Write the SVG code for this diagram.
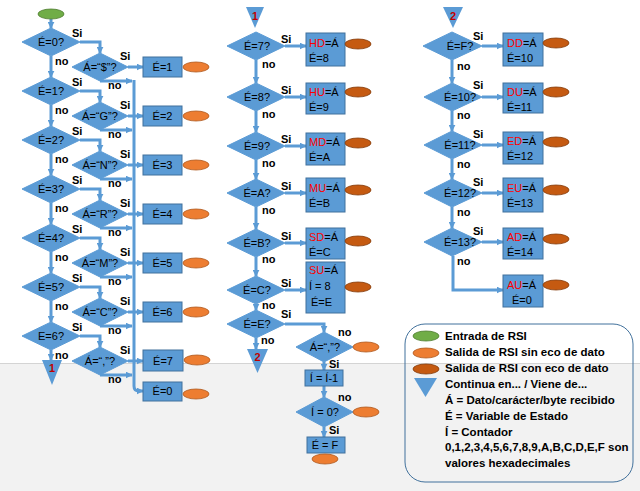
<svg xmlns="http://www.w3.org/2000/svg" width="640" height="491" viewBox="0 0 640 491">
<style>
.bg{fill:#ffffff}
.ft{fill:#f2f2f2}
.dm{fill:#5b9bd5;stroke:#5b9bd5;stroke-width:1}
.bx{fill:#5b9bd5;stroke:#41719c;stroke-width:1}
.tr{fill:#5b9bd5}
.eg{fill:#70ad47;stroke:#507e32;stroke-width:0.8}
.eo{fill:#ed7d31;stroke:#ae5a21;stroke-width:0.8}
.eb{fill:#c55a11;stroke:#843c0c;stroke-width:0.8}
.cn{fill:none;stroke:#5b9bd5;stroke-width:3}
.t{font-family:"Liberation Sans",Arial,sans-serif;font-size:11px;fill:#000}
.c{text-anchor:middle}
.b{font-family:"Liberation Sans",Arial,sans-serif;font-size:11px;font-weight:bold;fill:#000}
.r{fill:#ff0000}
.n{font-family:"Liberation Sans",Arial,sans-serif;font-size:11px;font-weight:bold;fill:#c00000;text-anchor:middle}
.lg{font-family:"Liberation Sans",Arial,sans-serif;font-size:11.5px;font-weight:bold;fill:#000}
</style>
<defs>
<marker id="ar" viewBox="0 0 10 10" refX="9" refY="5" markerWidth="7" markerHeight="7" markerUnits="userSpaceOnUse" orient="auto">
<path d="M0,0 L10,5 L0,10 z" fill="#5b9bd5"/>
</marker>
</defs>
<rect class="bg" x="0" y="0" width="640" height="491"/>
<rect class="ft" x="0" y="363" width="640" height="128"/>
<line x1="0" y1="363.5" x2="640" y2="363.5" stroke="#d4d4d4" stroke-width="1"/>

<g id="connectors">
<!-- left column -->
<path class="cn" d="M51,19 V28" marker-end="url(#ar)"/>
<path class="cn" d="M51,56 V77" marker-end="url(#ar)"/>
<path class="cn" d="M51,105 V126" marker-end="url(#ar)"/>
<path class="cn" d="M51,154 V175" marker-end="url(#ar)"/>
<path class="cn" d="M51,203 V224" marker-end="url(#ar)"/>
<path class="cn" d="M51,252 V273" marker-end="url(#ar)"/>
<path class="cn" d="M51,301 V322" marker-end="url(#ar)"/>
<path class="cn" d="M51,350 V360" marker-end="url(#ar)"/>
<path class="cn" d="M80,42 H100 V53" marker-end="url(#ar)"/>
<path class="cn" d="M80,91 H100 V102" marker-end="url(#ar)"/>
<path class="cn" d="M80,140 H100 V151" marker-end="url(#ar)"/>
<path class="cn" d="M80,189 H100 V200" marker-end="url(#ar)"/>
<path class="cn" d="M80,238 H100 V249" marker-end="url(#ar)"/>
<path class="cn" d="M80,287 H100 V298" marker-end="url(#ar)"/>
<path class="cn" d="M80,336 H100 V347" marker-end="url(#ar)"/>
<path class="cn" d="M128,67 H143" marker-end="url(#ar)"/>
<path class="cn" d="M128,116 H143" marker-end="url(#ar)"/>
<path class="cn" d="M128,165 H143" marker-end="url(#ar)"/>
<path class="cn" d="M128,214 H143" marker-end="url(#ar)"/>
<path class="cn" d="M128,263 H143" marker-end="url(#ar)"/>
<path class="cn" d="M128,312 H143" marker-end="url(#ar)"/>
<path class="cn" d="M128,361 H143" marker-end="url(#ar)"/>
<path class="cn" d="M100,81 H132" marker-end="url(#ar)"/>
<path class="cn" d="M100,130 H132" marker-end="url(#ar)"/>
<path class="cn" d="M100,179 H132" marker-end="url(#ar)"/>
<path class="cn" d="M100,228 H132" marker-end="url(#ar)"/>
<path class="cn" d="M100,277 H132" marker-end="url(#ar)"/>
<path class="cn" d="M100,326 H132" marker-end="url(#ar)"/>
<path class="cn" d="M100,375 H132" marker-end="url(#ar)"/>
<path class="cn" d="M134,80 V386 Q134,391 139,391 H143" marker-end="url(#ar)"/>
<!-- middle column -->
<path class="cn" d="M256,60 V83" marker-end="url(#ar)"/>
<path class="cn" d="M256,111 V132" marker-end="url(#ar)"/>
<path class="cn" d="M256,160 V179" marker-end="url(#ar)"/>
<path class="cn" d="M256,207 V229" marker-end="url(#ar)"/>
<path class="cn" d="M256,257 V276" marker-end="url(#ar)"/>
<path class="cn" d="M256,304 V310" marker-end="url(#ar)"/>
<path class="cn" d="M256,338 V349" marker-end="url(#ar)"/>
<path class="cn" d="M285,46 H306" marker-end="url(#ar)"/>
<path class="cn" d="M285,97 H306" marker-end="url(#ar)"/>
<path class="cn" d="M285,146 H306" marker-end="url(#ar)"/>
<path class="cn" d="M285,193 H306" marker-end="url(#ar)"/>
<path class="cn" d="M285,243 H306" marker-end="url(#ar)"/>
<path class="cn" d="M285,290 H306" marker-end="url(#ar)"/>
<path class="cn" d="M285,324 H324 V332" marker-end="url(#ar)"/>
<path class="cn" d="M324,362 V370" marker-end="url(#ar)"/>
<path class="cn" d="M324,386 V397" marker-end="url(#ar)"/>
<path class="cn" d="M324,427 V437" marker-end="url(#ar)"/>
<!-- right column -->
<path class="cn" d="M452,60 V83" marker-end="url(#ar)"/>
<path class="cn" d="M452,111 V131" marker-end="url(#ar)"/>
<path class="cn" d="M452,159 V179" marker-end="url(#ar)"/>
<path class="cn" d="M452,207 V228" marker-end="url(#ar)"/>
<path class="cn" d="M453,256 V290 H503" marker-end="url(#ar)"/>
<path class="cn" d="M482,46 H503" marker-end="url(#ar)"/>
<path class="cn" d="M482,97 H503" marker-end="url(#ar)"/>
<path class="cn" d="M482,145 H503" marker-end="url(#ar)"/>
<path class="cn" d="M482,193 H503" marker-end="url(#ar)"/>
<path class="cn" d="M482,242 H503" marker-end="url(#ar)"/>
</g>

<g id="labels">
<text class="b" x="72" y="37">Si</text><text class="b" x="55" y="65">no</text>
<text class="b" x="72" y="86">Si</text><text class="b" x="55" y="114">no</text>
<text class="b" x="72" y="135">Si</text><text class="b" x="55" y="163">no</text>
<text class="b" x="72" y="184">Si</text><text class="b" x="55" y="212">no</text>
<text class="b" x="72" y="233">Si</text><text class="b" x="55" y="261">no</text>
<text class="b" x="72" y="282">Si</text><text class="b" x="55" y="310">no</text>
<text class="b" x="72" y="331">Si</text><text class="b" x="55" y="359">no</text>
<text class="b" x="120" y="60">Si</text><text class="b" x="108" y="89">no</text>
<text class="b" x="120" y="109">Si</text><text class="b" x="108" y="138">no</text>
<text class="b" x="120" y="158">Si</text><text class="b" x="108" y="187">no</text>
<text class="b" x="120" y="207">Si</text><text class="b" x="108" y="236">no</text>
<text class="b" x="120" y="256">Si</text><text class="b" x="108" y="285">no</text>
<text class="b" x="120" y="305">Si</text><text class="b" x="108" y="334">no</text>
<text class="b" x="120" y="354">Si</text><text class="b" x="108" y="383">no</text>
<text class="b" x="281" y="43">Si</text><text class="b" x="262" y="68">no</text>
<text class="b" x="281" y="94">Si</text><text class="b" x="262" y="118">no</text>
<text class="b" x="281" y="143">Si</text><text class="b" x="262" y="167">no</text>
<text class="b" x="281" y="190">Si</text><text class="b" x="262" y="214">no</text>
<text class="b" x="281" y="240">Si</text><text class="b" x="262" y="263">no</text>
<text class="b" x="281" y="287">Si</text><text class="b" x="262" y="309">no</text>
<text class="b" x="281" y="318">Si</text><text class="b" x="261" y="344">no</text>
<text class="b" x="338" y="336">no</text><text class="b" x="329" y="368">Si</text>
<text class="b" x="338" y="401">no</text><text class="b" x="329" y="434">Si</text>
<text class="b" x="473" y="40">Si</text><text class="b" x="457" y="70">no</text>
<text class="b" x="473" y="89">Si</text><text class="b" x="457" y="119">no</text>
<text class="b" x="473" y="138">Si</text><text class="b" x="457" y="168">no</text>
<text class="b" x="473" y="186">Si</text><text class="b" x="457" y="216">no</text>
<text class="b" x="473" y="235">Si</text><text class="b" x="457" y="265">no</text>
</g>

<g id="start"><ellipse class="eg" cx="51" cy="14" rx="13" ry="5"/></g>

<g id="e0"><polygon class="dm" points="22,42 51,28 80,42 51,56"/><text class="t c" x="51" y="46">É=0?</text></g>
<g id="e1"><polygon class="dm" points="22,91 51,77 80,91 51,105"/><text class="t c" x="51" y="95">É=1?</text></g>
<g id="e2"><polygon class="dm" points="22,140 51,126 80,140 51,154"/><text class="t c" x="51" y="144">É=2?</text></g>
<g id="e3"><polygon class="dm" points="22,189 51,175 80,189 51,203"/><text class="t c" x="51" y="193">É=3?</text></g>
<g id="e4"><polygon class="dm" points="22,238 51,224 80,238 51,252"/><text class="t c" x="51" y="242">É=4?</text></g>
<g id="e5"><polygon class="dm" points="22,287 51,273 80,287 51,301"/><text class="t c" x="51" y="291">É=5?</text></g>
<g id="e6"><polygon class="dm" points="22,336 51,322 80,336 51,350"/><text class="t c" x="51" y="340">E=6?</text></g>
<g id="t1a"><polygon class="tr" points="42,360 62,360 52,385"/><text class="n" x="52" y="372">1</text></g>

<g id="a1"><polygon class="dm" points="72,67 100,53 128,67 100,81"/><text class="t c" x="100" y="71">Á=“$”?</text></g>
<g id="a2"><polygon class="dm" points="72,116 100,102 128,116 100,130"/><text class="t c" x="100" y="120">Á=“G”?</text></g>
<g id="a3"><polygon class="dm" points="72,165 100,151 128,165 100,179"/><text class="t c" x="100" y="169">Á=“N”?</text></g>
<g id="a4"><polygon class="dm" points="72,214 100,200 128,214 100,228"/><text class="t c" x="100" y="218">Á=“R”?</text></g>
<g id="a5"><polygon class="dm" points="72,263 100,249 128,263 100,277"/><text class="t c" x="100" y="267">Á=“M”?</text></g>
<g id="a6"><polygon class="dm" points="72,312 100,298 128,312 100,326"/><text class="t c" x="100" y="316">Á=“C”?</text></g>
<g id="a7"><polygon class="dm" points="72,361 100,347 128,361 100,375"/><text class="t c" x="100" y="365">Á=“,”?</text></g>

<g id="b1"><rect class="bx" x="143" y="57" width="39" height="20"/><text class="t c" x="162.5" y="71">É=1</text><ellipse class="eo" cx="196" cy="67" rx="13" ry="5"/></g>
<g id="b2"><rect class="bx" x="143" y="106" width="39" height="20"/><text class="t c" x="162.5" y="120">É=2</text><ellipse class="eo" cx="196" cy="116" rx="13" ry="5"/></g>
<g id="b3"><rect class="bx" x="143" y="155" width="39" height="20"/><text class="t c" x="162.5" y="169">É=3</text><ellipse class="eo" cx="196" cy="165" rx="13" ry="5"/></g>
<g id="b4"><rect class="bx" x="143" y="204" width="39" height="20"/><text class="t c" x="162.5" y="218">É=4</text><ellipse class="eo" cx="196" cy="214" rx="13" ry="5"/></g>
<g id="b5"><rect class="bx" x="143" y="253" width="39" height="20"/><text class="t c" x="162.5" y="267">É=5</text><ellipse class="eo" cx="196" cy="263" rx="13" ry="5"/></g>
<g id="b6"><rect class="bx" x="143" y="302" width="39" height="20"/><text class="t c" x="162.5" y="316">É=6</text><ellipse class="eo" cx="196" cy="312" rx="13" ry="5"/></g>
<g id="b7"><rect class="bx" x="143" y="350" width="40" height="21"/><text class="t c" x="163" y="365">É=7</text><ellipse class="eo" cx="197" cy="360" rx="13" ry="5"/></g>
<g id="b0"><rect class="bx" x="143" y="382" width="39" height="19"/><text class="t c" x="162.5" y="395">É=0</text><ellipse class="eo" cx="196" cy="394" rx="13" ry="5"/></g>

<g id="t1b"><polygon class="tr" points="246,7 264,7 255,28"/><text class="n" x="255" y="20">1</text></g>
<g id="e7"><polygon class="dm" points="227,46 256,32 285,46 256,60"/><text class="t c" x="257" y="50">É=7?</text></g>
<g id="e8"><polygon class="dm" points="227,97 256,83 285,97 256,111"/><text class="t c" x="257" y="101">É=8?</text></g>
<g id="e9"><polygon class="dm" points="227,146 256,132 285,146 256,160"/><text class="t c" x="257" y="150">É=9?</text></g>
<g id="eA"><polygon class="dm" points="227,193 256,179 285,193 256,207"/><text class="t c" x="257" y="197">É=A?</text></g>
<g id="eB"><polygon class="dm" points="227,243 256,229 285,243 256,257"/><text class="t c" x="257" y="247">É=B?</text></g>
<g id="eC"><polygon class="dm" points="227,290 256,276 285,290 256,304"/><text class="t c" x="257" y="294">É=C?</text></g>
<g id="eE"><polygon class="dm" points="227,324 256,310 285,324 256,338"/><text class="t c" x="257" y="328">É=E?</text></g>
<g id="t2a"><polygon class="tr" points="247,349 268,349 257.5,373"/><text class="n" x="257.5" y="361">2</text></g>

<g id="bHD"><rect class="bx" x="306" y="33" width="39" height="33"/><text class="t" x="309" y="47"><tspan class="r">HD</tspan>=Á</text><text class="t" x="309" y="62">É=8</text><ellipse class="eb" cx="358" cy="44" rx="13" ry="5"/></g>
<g id="bHU"><rect class="bx" x="306" y="83" width="39" height="31"/><text class="t" x="309" y="96"><tspan class="r">HU</tspan>=Á</text><text class="t" x="309" y="111">É=9</text><ellipse class="eb" cx="358" cy="92" rx="13" ry="5"/></g>
<g id="bMD"><rect class="bx" x="306" y="133" width="39" height="32"/><text class="t" x="309" y="146"><tspan class="r">MD</tspan>=Á</text><text class="t" x="309" y="161">É=A</text><ellipse class="eb" cx="358" cy="143" rx="13" ry="5"/></g>
<g id="bMU"><rect class="bx" x="306" y="178" width="39" height="34"/><text class="t" x="309" y="192"><tspan class="r">MU</tspan>=Á</text><text class="t" x="309" y="207">É=B</text><ellipse class="eb" cx="358" cy="190" rx="13" ry="5"/></g>
<g id="bSD"><rect class="bx" x="306" y="228" width="39" height="31"/><text class="t" x="309" y="241"><tspan class="r">SD</tspan>=Á</text><text class="t" x="309" y="256">É=C</text><ellipse class="eb" cx="358" cy="241" rx="13" ry="5"/></g>
<g id="bSU"><rect class="bx" x="306" y="262" width="39" height="51"/><text class="t" x="309" y="274"><tspan class="r">SU</tspan>=Á</text><text class="t" x="309" y="290">Í = 8</text><text class="t" x="311" y="306">É=E</text><ellipse class="eb" cx="358" cy="287" rx="13" ry="5"/></g>

<g id="aComa"><polygon class="dm" points="296,347 324,332 353,347 324,362"/><text class="t c" x="325" y="351">Á=“,”?</text><ellipse class="eo" cx="366" cy="347" rx="13" ry="5"/></g>
<g id="bIdec"><rect class="bx" x="305" y="370" width="38" height="16"/><text class="t c" x="324" y="382">Í = Í-1</text></g>
<g id="iZero"><polygon class="dm" points="296,412 324,397 353,412 324,427"/><text class="t c" x="325" y="416">Í = 0?</text><ellipse class="eo" cx="366" cy="412" rx="13" ry="5"/></g>
<g id="bEF"><rect class="bx" x="307" y="437" width="38" height="16"/><text class="t c" x="325" y="449">É = F</text><ellipse class="eo" cx="325" cy="459" rx="13" ry="5"/></g>

<g id="t2b"><polygon class="tr" points="443,7 463,7 453,28"/><text class="n" x="453" y="20">2</text></g>
<g id="eF"><polygon class="dm" points="423,46 452,32 482,46 452,60"/><text class="t c" x="460" y="50">É=F?</text></g>
<g id="e10"><polygon class="dm" points="424,97 452,83 482,97 452,111"/><text class="t c" x="460" y="101">É=10?</text></g>
<g id="e11"><polygon class="dm" points="424,145 452,131 482,145 452,159"/><text class="t c" x="460" y="149">É=11?</text></g>
<g id="e12"><polygon class="dm" points="424,193 452,179 482,193 452,207"/><text class="t c" x="460" y="197">É=12?</text></g>
<g id="e13"><polygon class="dm" points="424,242 452,228 482,242 452,256"/><text class="t c" x="460" y="246">É=13?</text></g>

<g id="bDD"><rect class="bx" x="503" y="33" width="40" height="33"/><text class="t" x="507" y="47"><tspan class="r">DD</tspan>=Á</text><text class="t" x="507" y="62">É=10</text><ellipse class="eb" cx="556" cy="43" rx="13" ry="5"/></g>
<g id="bDU"><rect class="bx" x="503" y="83" width="40" height="30"/><text class="t" x="507" y="96"><tspan class="r">DU</tspan>=Á</text><text class="t" x="507" y="111">É=11</text><ellipse class="eb" cx="556" cy="92" rx="13" ry="5"/></g>
<g id="bED"><rect class="bx" x="503" y="132" width="40" height="32"/><text class="t" x="507" y="145"><tspan class="r">ED</tspan>=Á</text><text class="t" x="507" y="160">É=12</text><ellipse class="eb" cx="556" cy="142" rx="13" ry="5"/></g>
<g id="bEU"><rect class="bx" x="503" y="178" width="40" height="34"/><text class="t" x="507" y="192"><tspan class="r">EU</tspan>=Á</text><text class="t" x="507" y="207">É=13</text><ellipse class="eb" cx="556" cy="190" rx="13" ry="5"/></g>
<g id="bAD"><rect class="bx" x="503" y="228" width="40" height="31"/><text class="t" x="507" y="241"><tspan class="r">AD</tspan>=Á</text><text class="t" x="507" y="256">É=14</text><ellipse class="eb" cx="556" cy="239" rx="13" ry="5"/></g>
<g id="bAU"><rect class="bx" x="503" y="275" width="40" height="32"/><text class="t" x="507" y="289"><tspan class="r">AU</tspan>=Á</text><text class="t" x="512" y="304">É=0</text><ellipse class="eb" cx="556" cy="285" rx="13" ry="5"/></g>

<g id="legend">
<rect x="405" y="324" width="228" height="158" rx="20" ry="20" fill="none" stroke="#41719c" stroke-width="1"/>
<ellipse class="eg" cx="426" cy="336" rx="13" ry="5"/>
<ellipse class="eo" cx="426" cy="353" rx="13" ry="5"/>
<ellipse class="eb" cx="426" cy="369" rx="13" ry="5"/>
<polygon class="tr" points="414,378 437,378 425.5,397"/>
<text class="lg" x="445" y="340">Entrada de RSI</text>
<text class="lg" x="445" y="356">Salida de RSI sin eco de dato</text>
<text class="lg" x="445" y="372">Salida de RSI con eco de dato</text>
<text class="lg" x="445" y="388">Continua en... / Viene de...</text>
<text class="lg" x="445" y="404">Á = Dato/carácter/byte recibido</text>
<text class="lg" x="445" y="420">É = Variable de Estado</text>
<text class="lg" x="445" y="436">Í = Contador</text>
<text class="lg" x="445" y="451">0,1,2,3,4,5,6,7,8,9,A,B,C,D,E,F son</text>
<text class="lg" x="445" y="467">valores hexadecimales</text>
</g>
</svg>
